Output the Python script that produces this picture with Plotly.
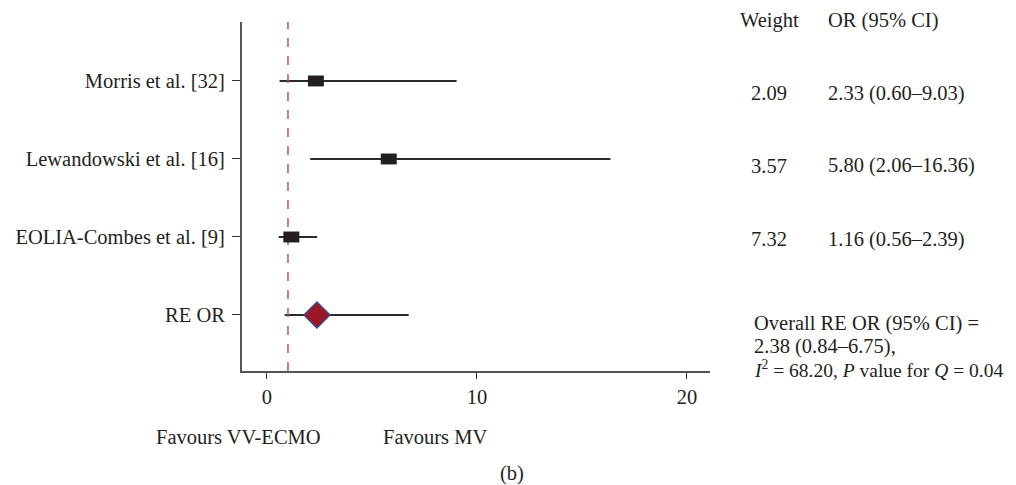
import plotly.graph_objects as go

studies = ["Morris et al. [32]", "Lewandowski et al. [16]", "EOLIA-Combes et al. [9]", "RE OR"]
ypos = [4, 3, 2, 1]
or_vals = [2.33, 5.80, 1.16, 2.38]
ci_low = [0.60, 2.06, 0.56, 0.84]
ci_high = [9.03, 16.36, 2.39, 6.75]
weights = ["2.09", "3.57", "7.32"]
or_text = ["2.33 (0.60\u20139.03)", "5.80 (2.06\u201316.36)", "1.16 (0.56\u20132.39)"]
overall_lines = ["Overall RE OR (95% CI) =", "2.38 (0.84\u20136.75),",
                 "<i>I</i><sup>2</sup> = 68.20, <i>P</i> value for <i>Q</i> = 0.04"]
x_ticks = [0, 10, 20]

FONT = "Liberation Serif"
FS = 20.5
TXT = "#231f20"

fig = go.Figure()

# CI lines
for i in range(4):
    fig.add_trace(go.Scatter(x=[ci_low[i], ci_high[i]], y=[ypos[i], ypos[i]], mode="lines",
                             line=dict(color="#2b2b2b", width=2), showlegend=False, hoverinfo="skip"))

# Null line
fig.add_shape(type="line", x0=1, x1=1, y0=0, y1=1, xref="x", yref="paper",
              line=dict(color="#c0505e", width=1.5, dash="dash"))

# study squares (rectangles in data coords)
hw, hh = 0.38, 0.07
for i in range(3):
    fig.add_shape(type="rect", xref="x", yref="y",
                  x0=or_vals[i] - hw, x1=or_vals[i] + hw, y0=ypos[i] - hh, y1=ypos[i] + hh,
                  fillcolor="#231f20", line=dict(width=0), layer="above")

# pooled diamond
fig.add_trace(go.Scatter(x=[or_vals[3]], y=[ypos[3]], mode="markers",
                         marker=dict(symbol="diamond", size=20, color="#9b1626",
                                     line=dict(color="#3c4a8c", width=1.5)),
                         showlegend=False, hoverinfo="skip"))

fig.update_layout(
    width=1008, height=477,
    margin=dict(l=234, r=306, t=14, b=114),
    plot_bgcolor="white", paper_bgcolor="white",
    font=dict(family=FONT, size=FS, color=TXT),
    xaxis=dict(range=[-1.19, 21.1], tickvals=x_ticks, showgrid=False, zeroline=False,
               automargin=False,
               showline=True, linecolor="#555555", linewidth=2,
               ticks="outside", ticklen=6, tickcolor="#333333", tickwidth=1.2,
               tickfont=dict(family=FONT, size=FS, color=TXT)),
    yaxis=dict(range=[0.282, 4.756], tickvals=ypos, ticktext=studies, showgrid=False, zeroline=False,
               automargin=False,
               showline=True, linecolor="#555555", linewidth=2,
               ticks="outside", ticklen=8, tickcolor="#333333", tickwidth=1.2,
               ticklabelstandoff=3,
               tickfont=dict(family=FONT, size=FS, color=TXT)),
)

def px_x(p):
    return (p - 242) / 468.0

def px_y(p):
    return (371 - p) / 349.0

ann = []
ann.append(dict(text="Weight", x=px_x(769), y=px_y(20), xanchor="center"))
ann.append(dict(text="OR (95% CI)", x=px_x(826), y=px_y(20), xanchor="left"))
row_y = [93, 166, 239]
for i in range(3):
    ann.append(dict(text=weights[i], x=px_x(769), y=px_y(row_y[i]), xanchor="center"))
    ann.append(dict(text=or_text[i], x=px_x(826), y=px_y(row_y[i]), xanchor="left"))
for j, ly in enumerate([323, 346, 369]):
    ann.append(dict(text=overall_lines[j], x=px_x(752), y=px_y(ly), xanchor="left",
                    fs=(19.5 if j == 2 else FS)))
ann.append(dict(text="Favours VV-ECMO", x=px_x(238), y=px_y(437), xanchor="center"))
ann.append(dict(text="Favours MV", x=px_x(435), y=px_y(437), xanchor="center"))
ann.append(dict(text="(b)", x=px_x(512), y=px_y(473), xanchor="center"))

for a in ann:
    fs = a.pop("fs", FS)
    a.update(xref="paper", yref="paper", yanchor="middle", showarrow=False,
             font=dict(family=FONT, size=fs, color=TXT))
    fig.add_annotation(**a)

fig.write_html("out.html")
